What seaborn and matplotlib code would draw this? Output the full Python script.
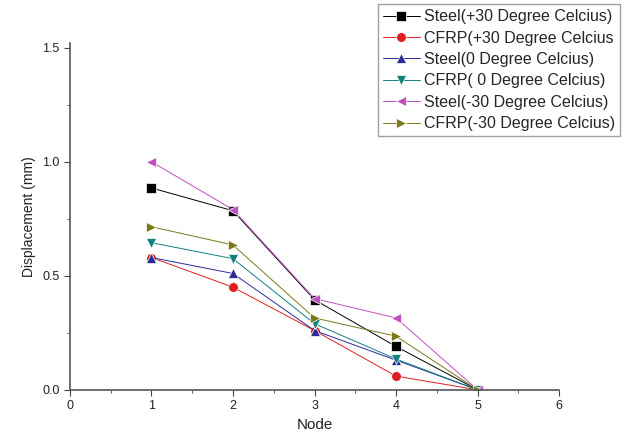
import pandas as pd
import seaborn as sns
import matplotlib.pyplot as plt
from matplotlib.ticker import MultipleLocator

nodes = [1, 2, 3, 4, 5]
series_names = [
    "Steel(+30 Degree Celcius)",
    "CFRP(+30 Degree Celcius",
    "Steel(0 Degree Celcius)",
    "CFRP( 0 Degree Celcius)",
    "Steel(-30 Degree Celcius)",
    "CFRP(-30 Degree Celcius)",
]
steel_p30 = [0.885, 0.785, 0.395, 0.19, 0.0]
cfrp_p30 = [0.58, 0.45, 0.26, 0.06, 0.0]
steel_0 = [0.58, 0.51, 0.26, 0.13, 0.0]
cfrp_0 = [0.645, 0.575, 0.29, 0.135, 0.0]
steel_m30 = [1.0, 0.79, 0.40, 0.315, 0.0]
cfrp_m30 = [0.715, 0.635, 0.315, 0.235, 0.0]

colors = ["#000000", "#e02020", "#2a2a9a", "#11807e", "#c050c0", "#7a7a1a"]
marks = ["s", "o", "^", "v", "<", ">"]

rows = []
for name, vals in zip(series_names, [steel_p30, cfrp_p30, steel_0, cfrp_0, steel_m30, cfrp_m30]):
    for n, v in zip(nodes, vals):
        rows.append({"Node": n, "Displacement": v, "Series": name})
df = pd.DataFrame(rows)

sns.set_style("ticks")
plt.rcParams["font.family"] = ["Liberation Sans", "DejaVu Sans"]

fig = plt.figure(figsize=(6.29, 4.44), dpi=100)
ax = fig.add_axes([0.111, 0.122, 0.778, 0.781])
sns.lineplot(data=df, x="Node", y="Displacement", hue="Series", style="Series",
             hue_order=series_names, style_order=series_names,
             palette=dict(zip(series_names, colors)),
             markers=dict(zip(series_names, marks)), dashes=False,
             linewidth=0.7, markersize=7, markeredgewidth=0.5, ax=ax)

ax.set_xlim(0, 6)
ax.set_ylim(0, 1.52)
ax.xaxis.set_major_locator(MultipleLocator(1))
ax.xaxis.set_minor_locator(MultipleLocator(0.5))
ax.yaxis.set_major_locator(MultipleLocator(0.5))
ax.yaxis.set_minor_locator(MultipleLocator(0.25))
ax.tick_params(which="both", direction="out", colors="#444444", labelcolor="#222222", labelsize=9)
ax.tick_params(which="major", length=4)
ax.tick_params(which="minor", length=2.5)
ax.yaxis.set_major_formatter(plt.FormatStrFormatter("%.1f"))
for s in ["top", "right"]:
    ax.spines[s].set_visible(False)
for s in ["left", "bottom"]:
    ax.spines[s].set_color("#555555")
    ax.spines[s].set_linewidth(1.2)
ax.set_xlabel("Node", fontsize=11, color="#222222")
ax.set_ylabel("Displacement (mm)", fontsize=10, color="#222222")

ax.legend(loc="upper left", bbox_to_anchor=(0.601, 0.99), bbox_transform=fig.transFigure,
          fontsize=11.5, frameon=True, fancybox=False, edgecolor="#888888",
          handlelength=2.3, labelspacing=0.4, borderpad=0.3, handletextpad=0.3,
          borderaxespad=0.0)

plt.savefig("out.png", dpi=100)
plt.close()
